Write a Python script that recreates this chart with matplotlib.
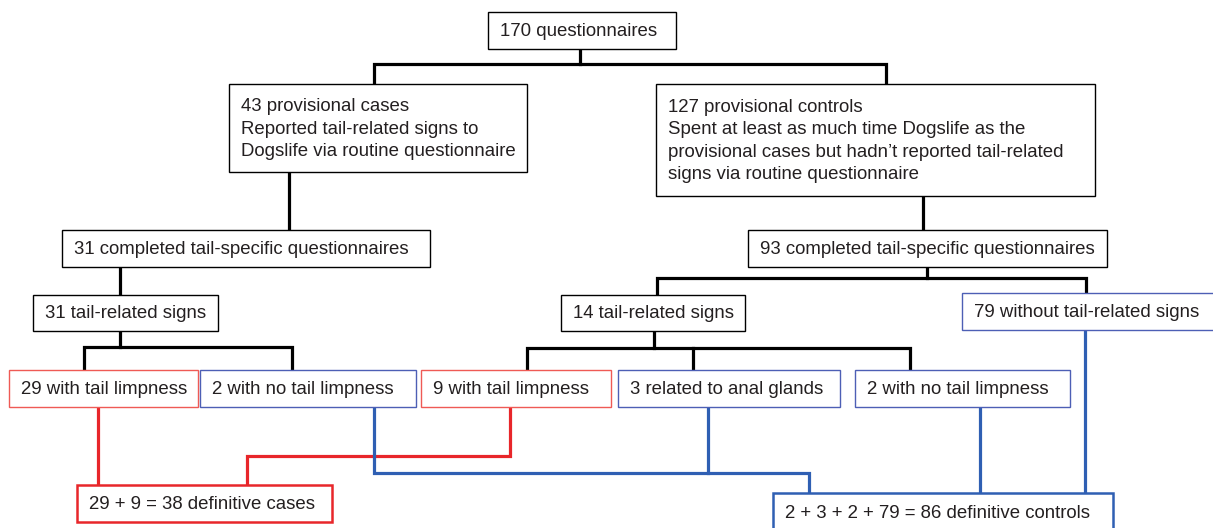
import matplotlib.pyplot as plt
from matplotlib.patches import Rectangle

# =========================
# DATA
# =========================
labels = [
    "170 questionnaires",
    "43 provisional cases\nReported tail-related signs to\nDogslife via routine questionnaire",
    "127 provisional controls\nSpent at least as much time Dogslife as the\nprovisional cases but hadn\u2019t reported tail-related\nsigns via routine questionnaire",
    "31 completed tail-specific questionnaires",
    "93 completed tail-specific questionnaires",
    "31 tail-related signs",
    "14 tail-related signs",
    "79 without tail-related signs",
    "29 with tail limpness",
    "2 with no tail limpness",
    "9 with tail limpness",
    "3 related to anal glands",
    "2 with no tail limpness",
    "29 + 9 = 38 definitive cases",
    "2 + 3 + 2 + 79 = 86 definitive controls",
]
counts_cases = [29, 9]
counts_controls = [2, 3, 2, 79]

# =========================
# LAYOUT (pixel coords, y down)
# =========================
RED = "#e8262a"
RED_BOX = "#ef5a55"
BLUE = "#2f5fb3"
BLUE_BOX = "#4d5fb5"

# x0, y0, x1, y1, edge colour, edge width
boxes = [
    (488, 12, 676, 49, "black", 1.0),
    (229, 84, 527, 172, "black", 1.0),
    (656, 84, 1095, 196, "black", 1.0),
    (62, 230, 430, 267, "black", 1.0),
    (748, 230, 1107, 267, "black", 1.0),
    (33, 295, 218, 331, "black", 1.0),
    (561, 295, 745, 331, "black", 1.0),
    (962, 293, 1216, 330, BLUE_BOX, 1.0),
    (9, 370, 198, 407, RED_BOX, 1.0),
    (200, 370, 416, 407, BLUE_BOX, 1.0),
    (421, 370, 611, 407, RED_BOX, 1.0),
    (618, 370, 840, 407, BLUE_BOX, 1.0),
    (855, 370, 1070, 407, BLUE_BOX, 1.0),
    (77, 485, 332, 522, RED, 1.8),
    (773, 493, 1113, 531, BLUE, 1.8),
]

black_lines = [
    [(580, 49), (580, 64)],
    [(374, 84), (374, 64), (886, 64), (886, 84)],
    [(289, 172), (289, 230)],
    [(923, 196), (923, 230)],
    [(120, 267), (120, 295)],
    [(927, 267), (927, 278)],
    [(657, 295), (657, 278), (1086, 278), (1086, 293)],
    [(120, 331), (120, 347)],
    [(84, 370), (84, 347), (292, 347), (292, 370)],
    [(654, 331), (654, 348)],
    [(527, 370), (527, 348), (910, 348), (910, 370)],
    [(693, 348), (693, 370)],
]

red_lines = [
    [(98, 407), (98, 485)],
    [(510, 407), (510, 456), (247, 456), (247, 485)],
]

blue_lines = [
    [(374, 407), (374, 473), (809, 473), (809, 493)],
    [(708, 407), (708, 473)],
    [(980, 407), (980, 493)],
    [(1085, 330), (1085, 493)],
]

# =========================
# PLOT
# =========================
plt.rcParams["font.family"] = ["Liberation Sans", "DejaVu Sans"]

fig = plt.figure(figsize=(12.13, 5.28), dpi=100)
ax = fig.add_axes([0, 0, 1, 1])
ax.set_xlim(0, 1213)
ax.set_ylim(528, 0)
ax.axis("off")

for pts in black_lines:
    xs, ys = zip(*pts)
    ax.plot(xs, ys, color="black", lw=2.3, solid_joinstyle="miter", zorder=1)
for pts in red_lines:
    xs, ys = zip(*pts)
    ax.plot(xs, ys, color=RED, lw=2.3, solid_joinstyle="miter", zorder=1)
for pts in blue_lines:
    xs, ys = zip(*pts)
    ax.plot(xs, ys, color=BLUE, lw=2.3, solid_joinstyle="miter", zorder=1)

for label, (x0, y0, x1, y1, ec, lw) in zip(labels, boxes):
    ax.add_patch(Rectangle((x0, y0), x1 - x0, y1 - y0, facecolor="white",
                           edgecolor=ec, lw=lw, zorder=2))
    ax.text(x0 + 12, (y0 + y1) / 2 + 1, label, ha="left", va="center",
            fontsize=13.4, color="#231f20", linespacing=1.42, zorder=3)

fig.savefig("out.png", dpi=100)
